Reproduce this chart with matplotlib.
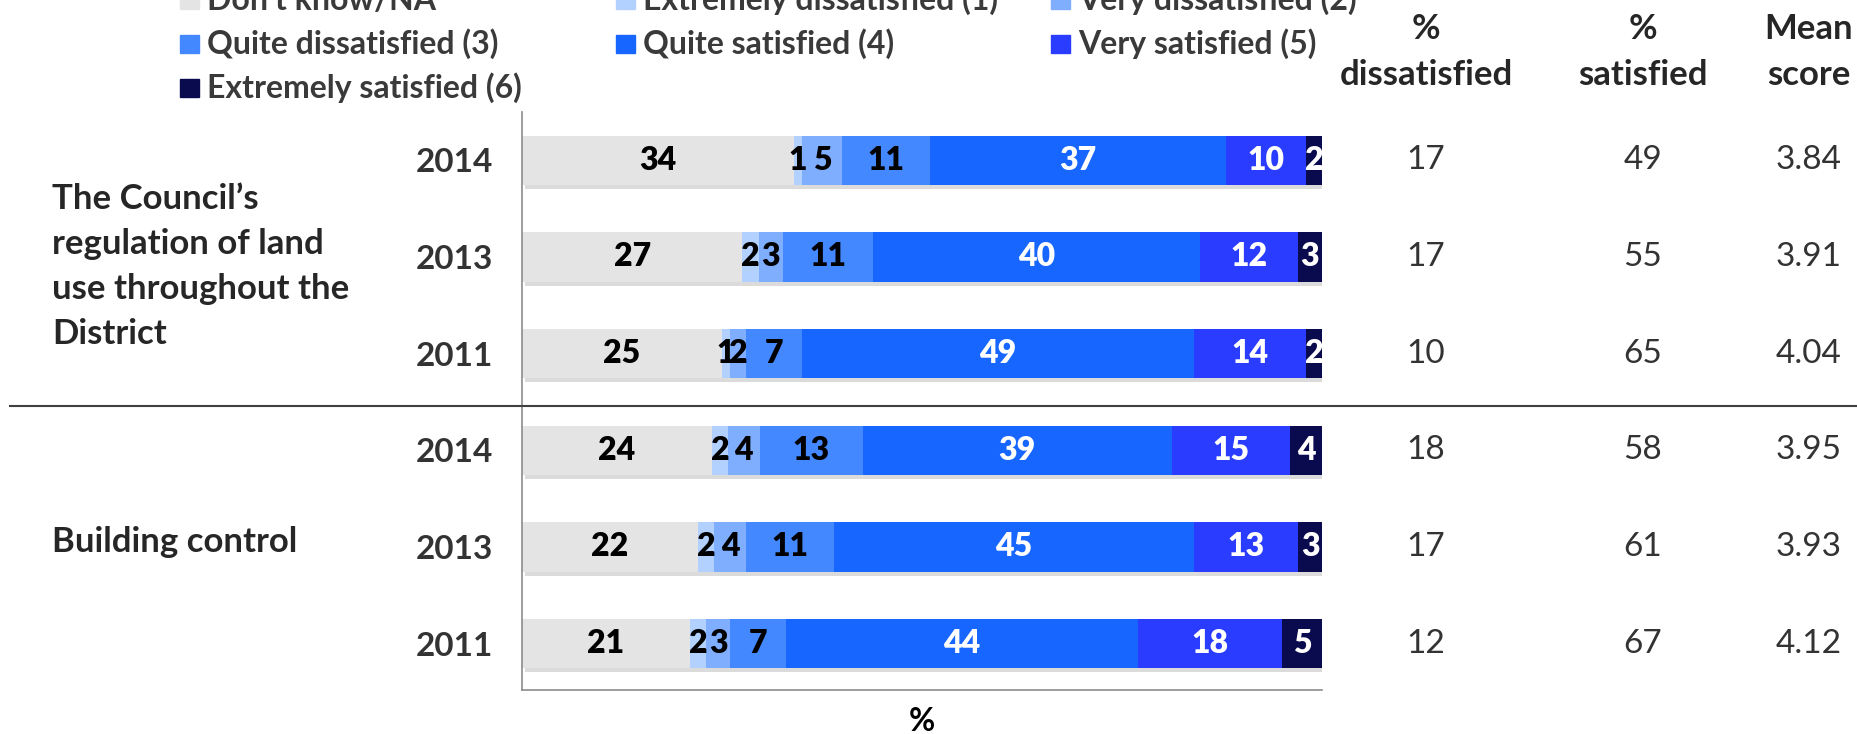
import numpy as np
import matplotlib.pyplot as plt
import matplotlib.patheffects as pe
from matplotlib.patches import Rectangle
import matplotlib.transforms as mtransforms

plt.rcParams['font.family'] = ['Lato', 'DejaVu Sans']

categories = ["Don\u2019t know/NA", "Extremely dissatisfied (1)", "Very dissatisfied (2)",
              "Quite dissatisfied (3)", "Quite satisfied (4)", "Very satisfied (5)",
              "Extremely satisfied (6)"]
colors = ["#e4e4e4", "#b3d1ff", "#80aeff", "#4488ff", "#1666ff", "#2a3cff", "#0a0a4e"]
label_colors = ["black", "black", "black", "black", "white", "white", "white"]

years = ["2014", "2013", "2011", "2014", "2013", "2011"]
groups = ["The Council\u2019s\nregulation of land\nuse throughout the\nDistrict", "Building control"]

values = np.array([
    [34, 1, 5, 11, 37, 10, 2],
    [27, 2, 3, 11, 40, 12, 3],
    [25, 1, 2, 7, 49, 14, 2],
    [24, 2, 4, 13, 39, 15, 4],
    [22, 2, 4, 11, 45, 13, 3],
    [21, 2, 3, 7, 44, 18, 5],
])
pct_dissatisfied = [17, 17, 10, 18, 17, 12]
pct_satisfied = [49, 55, 65, 58, 61, 67]
mean_score = ["3.84", "3.91", "4.04", "3.95", "3.93", "4.12"]

W, H = 1857, 734
fig = plt.figure(figsize=(W / 100, H / 100), dpi=100)
ax = fig.add_axes([522 / W, 1 - 690 / H, 800 / W, 578 / H])

# bars drawn to full width (rounded labels don't always sum to 100)
widths = values / values.sum(axis=1, keepdims=True) * 100
ypos = np.arange(len(years))
left = np.zeros(len(years))
shadow = [pe.withSimplePatchShadow(offset=(2, -3), shadow_rgbFace="#888888", alpha=0.3)]
for j, cat in enumerate(categories):
    bars = ax.barh(ypos, widths[:, j], left=left, height=0.51, color=colors[j],
                   label=cat, zorder=2)
    for b in bars:
        b.set_path_effects(shadow)
    for i in range(len(years)):
        ax.text(left[i] + widths[i, j] / 2, ypos[i], str(values[i, j]), ha="center",
                va="center", fontsize=23, fontweight="heavy", color=label_colors[j], zorder=3)
    left += widths[:, j]

ax.set_xlim(0, 100)
ax.set_ylim(5.48, -0.5)
ax.set_xticks([])
ax.set_yticks(ypos)
ax.set_yticklabels(years, fontsize=24, fontweight="bold", color="#333333")
ax.tick_params(axis="y", length=0, pad=21)
for s in ["top", "right"]:
    ax.spines[s].set_visible(False)
for s in ["left", "bottom"]:
    ax.spines[s].set_color("#8c8c8c")
    ax.spines[s].set_linewidth(1.2)
ax.set_xlabel("%", fontsize=23, fontweight="bold", labelpad=12)

# group labels on the left
trans = mtransforms.blended_transform_factory(fig.transFigure, ax.transData)
ax.text(52 / W, 1.1, groups[0], transform=trans, ha="left", va="center", fontsize=25,
        fontweight="bold", color="#262626", linespacing=1.5)
ax.text(52 / W, 3.95, groups[1], transform=trans, ha="left", va="center", fontsize=25,
        fontweight="bold", color="#262626")

# separator line between groups
fig.add_artist(plt.Line2D([10 / W, 1.0], [1 - 406 / H, 1 - 406 / H], color="#404040",
                          linewidth=1.5, transform=fig.transFigure))

# table on the right
col_x = [1426 / W, 1643 / W, 1809 / W]
headers = ["%\ndissatisfied", "%\nsatisfied", "Mean\nscore"]
for cx, hd in zip(col_x, headers):
    fig.text(cx, 1 - 52 / H, hd, ha="center", va="center", fontsize=25, fontweight="bold",
             color="#262626", linespacing=1.55)
for i in range(len(years)):
    ax.text(col_x[0], ypos[i], str(pct_dissatisfied[i]), transform=trans, ha="center",
            va="center", fontsize=24, color="#333333")
    ax.text(col_x[1], ypos[i], str(pct_satisfied[i]), transform=trans, ha="center",
            va="center", fontsize=24, color="#333333")
    ax.text(col_x[2], ypos[i], mean_score[i], transform=trans, ha="center",
            va="center", fontsize=24, color="#333333")

# legend, three columns laid out like the original
leg_x = [180, 616, 1051]
leg_y = [0, 44, 88]
for k, cat in enumerate(categories):
    r, c = divmod(k, 3)
    x0 = leg_x[c]
    yc = leg_y[r]
    fig.add_artist(Rectangle((x0 / W, 1 - (yc + 9) / H), 19 / W, 18 / H,
                             transform=fig.transFigure, color=colors[k]))
    fig.text((x0 + 27) / W, 1 - yc / H, cat, ha="left", va="center", fontsize=23,
             fontweight="bold", color="#3a3a3a")

fig.savefig("out.png", dpi=100)
